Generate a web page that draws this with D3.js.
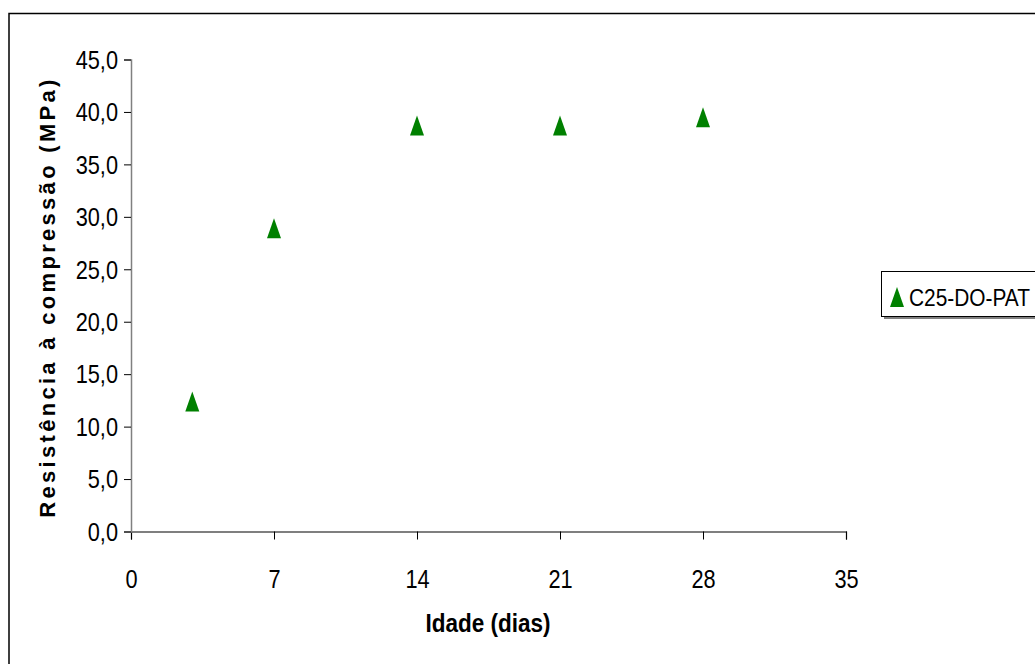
<!DOCTYPE html>
<html>
<head>
<meta charset="utf-8">
<script src="https://cdn.jsdelivr.net/npm/d3@7"></script>
<style>
  html, body { margin: 0; padding: 0; background: #fff; }
  svg { display: block; }
</style>
</head>
<body>
<svg id="chart" width="1035" height="664"></svg>
<script>
const idades = [3, 7, 14, 21, 28];
const resistencia = [12.4, 28.9, 38.7, 38.7, 39.5];
const seriesName = "C25-DO-PAT";
const xTicks = [0, 7, 14, 21, 28, 35];
const yTicks = [0, 5, 10, 15, 20, 25, 30, 35, 40, 45];
const xTitle = "Idade (dias)";
const yTitle = "Resistência à compressão (MPa)";

const FONT = "Liberation Sans, Arial, sans-serif";
const NARROW = 0.87;
const svg = d3.select("#chart");
const fmtY = d => d.toFixed(1).replace(".", ",");

// outer chart border
svg.append("rect").attr("x", 9).attr("y", 13.5).attr("width", 1100).attr("height", 700)
  .attr("fill", "#fff").attr("stroke", "#000").attr("stroke-width", 1.5);

const x = d3.scaleLinear().domain([0, 35]).range([131, 846]);
const y = d3.scaleLinear().domain([0, 45]).range([531.5, 59.5]);

// Y axis
const yAxis = svg.append("g").attr("transform", "translate(131,0)")
  .call(d3.axisLeft(y).tickValues(yTicks).tickFormat(fmtY).tickSizeOuter(0).tickSize(7));
yAxis.select(".domain").attr("stroke", "#808080").attr("stroke-width", 1.5);
yAxis.selectAll(".tick line").attr("stroke", "#000");
yAxis.selectAll(".tick text")
  .attr("x", null).attr("dy", "0.35em")
  .attr("transform", `translate(-13,0) scale(${NARROW},1)`)
  .attr("font-family", FONT).attr("font-size", 25).attr("fill", "#000");

// X axis
const xAxis = svg.append("g").attr("transform", "translate(0,531.5)")
  .call(d3.axisBottom(x).tickValues(xTicks).tickFormat(d3.format("d")).tickSizeOuter(0).tickSize(8));
xAxis.select(".domain").attr("stroke", "#000").attr("stroke-width", 1.2);
xAxis.selectAll(".tick line").attr("stroke", "#000");
xAxis.selectAll(".tick text")
  .attr("y", null).attr("dy", null)
  .attr("transform", `translate(0,56) scale(${NARROW},1)`)
  .attr("font-family", FONT).attr("font-size", 25).attr("fill", "#000");
yAxis.raise();

// axis titles
svg.append("text").attr("transform", "translate(488,632) scale(0.9,1)")
  .attr("text-anchor", "middle").attr("font-family", FONT)
  .attr("font-size", 25).attr("font-weight", "bold").text(xTitle);
svg.append("text").attr("transform", "translate(55,297) rotate(-90)")
  .attr("text-anchor", "middle").attr("font-family", FONT)
  .attr("font-size", 22).attr("font-weight", "bold").attr("letter-spacing", 3.3).text(yTitle);

// markers
const tri = (cx, cy, w, h) => `M${cx},${cy - h / 2}L${cx + w / 2},${cy + h / 2}L${cx - w / 2},${cy + h / 2}Z`;
svg.append("g").selectAll("path").data(idades.map((d, i) => ({ x: d, y: resistencia[i] })))
  .join("path")
  .attr("d", d => tri(x(d.x), y(d.y), 14, 20))
  .attr("fill", "#008000");

// legend
const lg = svg.append("g");
lg.append("rect").attr("x", 884).attr("y", 274).attr("width", 200).attr("height", 45).attr("fill", "#808080");
lg.append("rect").attr("x", 881.5).attr("y", 271.5).attr("width", 200).attr("height", 45)
  .attr("fill", "#fff").attr("stroke", "#000").attr("stroke-width", 1);
lg.append("path").attr("d", tri(897, 297, 14, 20)).attr("fill", "#008000");
lg.append("text").attr("transform", `translate(909,306) scale(${NARROW},1)`)
  .attr("font-family", FONT).attr("font-size", 24).attr("fill", "#000").text(seriesName);
</script>
</body>
</html>
